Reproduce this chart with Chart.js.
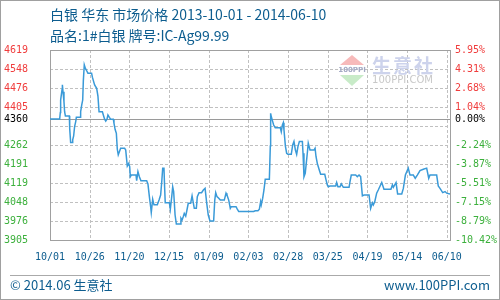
<!DOCTYPE html>
<html><head><meta charset="utf-8">
<script src="https://cdn.jsdelivr.net/npm/chart.js@4.4.1/dist/chart.umd.min.js"></script>
<style>html,body{margin:0;padding:0;background:#fff;}#wrap{width:500px;height:300px;position:relative;}</style>
</head><body><div id="wrap"><canvas id="c" width="500" height="300"></canvas></div>
<script>
// ---- data ----
const titleText = '白银 华东 市场价格 2013-10-01 - 2014-06-10';
const subtitleText = '品名:1#白银 牌号:IC-Ag99.99';
const basePrice = 4360;
// day offsets from 2013-10-01
const days = [0,6.1,6.5,6.7,7.6,7.8,8.2,8.8,9.2,9.7,12.2,12.4,13,13.9,14.3,14.9,15.5,16.2,16.6,19.1,19.3,20,20.6,21,21.6,22.3,23.1,23.9,26.2,26.7,27.5,28.1,29.4,30.2,30.9,33,33.6,34.4,35.1,35.9,36.5,37.4,38.2,39.9,40.3,41,41.8,42.4,43,43.7,44.5,47,47.7,48.3,48.7,49.6,50.2,50.6,51.2,54.2,54.6,55.4,56.3,57.3,60.9,61.7,62.6,63.4,63.8,64.7,65.5,67.6,68.7,69.7,70.4,71,71.8,72.2,72.6,75.2,75.8,76.7,77.3,77.9,78.8,79.6,81.9,82.5,83.2,84,84.6,85.5,86.1,87.1,88.6,89.5,90.9,92.2,92.8,93.9,95.5,96.6,97.7,98.7,99.7,100.8,103.1,103.8,104.4,105.2,106.3,107.3,109.8,110.9,111.5,112.6,113.6,114.2,117.2,118,118.9,128.3,129.3,131,131.9,132.7,133.1,134,134.8,135.6,138.2,138.8,139,139.4,140.3,140.9,141.9,145.1,145.7,146.4,147,147.4,148.3,149.1,149.9,152,152.9,153.7,154.6,155.4,156.2,157.1,159,159.4,160,160.8,162.1,162.7,163.8,166.3,167,167.6,168.4,169.5,170.5,173.1,173.9,174.7,175.3,176.4,180,180.6,181.4,182.7,183.5,184.8,188.4,189,189.8,192.6,193.6,194.7,195.7,196.8,197.8,201,202,203.1,203.7,204.6,205.8,206.8,209,210.4,214.8,215.7,216.3,218,219,221.6,222.6,223.9,225.7,226.8,228.9,230.1,231.4,233.1,235.2,237.3,238.6,239.4,243.6,244.6,245.7,247.4,248.9,249.9,252];
const prices = [4360,4360,4384,4431,4471,4488,4462,4425,4387,4371,4371,4325,4271,4271,4281,4296,4331,4350,4366,4366,4387,4413,4431,4503,4563,4550,4541,4532,4532,4517,4500,4488,4475,4446,4387,4387,4375,4359,4352,4359,4375,4366,4359,4359,4344,4321,4306,4246,4225,4237,4250,4250,4243,4206,4183,4193,4181,4143,4149,4149,4128,4162,4143,4128,4128,4116,4068,4030,4008,4058,4037,4037,4055,4074,4124,4175,4175,4105,4045,4045,4021,4068,4105,4087,3999,3965,3965,3987,3980,3993,4005,3995,4012,4043,4043,4071,4024,4024,4068,4083,4083,4093,4099,4045,3999,3976,3976,4055,4083,4068,4062,4055,4055,4081,4074,4055,4024,4030,4030,4021,4012,4012,4015,4015,4021,4049,4037,4062,4093,4133,4133,4258,4381,4369,4350,4337,4327,4327,4312,4337,4346,4319,4258,4231,4227,4227,4262,4275,4243,4227,4256,4275,4275,4231,4143,4156,4231,4269,4243,4243,4250,4218,4193,4171,4152,4152,4131,4112,4105,4108,4108,4121,4105,4105,4116,4103,4103,4124,4149,4149,4143,4149,4143,4071,4074,4074,4024,4045,4037,4049,4081,4093,4121,4096,4096,4112,4103,4121,4078,4078,4099,4149,4175,4149,4149,4137,4149,4166,4171,4175,4137,4149,4149,4108,4099,4083,4087,4081,4078];
const yTickValues = [3905,3976.4,4047.8,4119.2,4190.6,4262,4333.4,4360,4404.8,4476.2,4547.6,4619];
const leftLabels = ['3905','3976','4048','4119','4191','4262','','4360','4405','4476','4548','4619'];
const rightLabels = ['-10.42%','-8.79%','-7.15%','-5.51%','-3.87%','-2.24%','','0.00%','1.04%','2.68%','4.31%','5.95%'];
const xTickDays = [0,25,50,75,100,125,150,175,200,225,250];
const xLabels = ['10/01','10/26','11/20','12/15','01/09','02/03','02/28','03/25','04/19','05/14','06/10'];
const footerLeft = '© 2014.06 生意社';
const footerRight = 'www.100PPI.com';
const wmMain = '生意社';
const wmSub = '100PPI.COM';

// ---- styles ----
const RED = '#f03c3c', GREEN = '#3cb03c', BLACK = '#000', BLUE = '#0d5d8f';
const GRID = '#c0c0c0';
const tickFont = {family: '"DejaVu Sans Mono", monospace', size: 10};
const labelColor = c => {
  const v = c.tick.value;
  return Math.abs(v - basePrice) < 0.01 ? BLACK : (v > basePrice ? RED : GREEN);
};

const decor = {
  id: 'decor',
  beforeDatasetsDraw(chart) {
    const {ctx, chartArea: a} = chart;
    const y = chart.scales.y, x = chart.scales.x;
    ctx.save();
    const L = Math.round(a.left), R = Math.round(a.right), T = Math.round(a.top), B = Math.round(a.bottom);
    // dashed grid (3px dash, 2px gap) at the scales' tick positions
    ctx.fillStyle = GRID;
    y.ticks.forEach(t => {
      if (Math.abs(t.value - basePrice) < 0.01) return;
      const py = Math.round(y.getPixelForValue(t.value));
      for (let px = L; px < R; px += 5) ctx.fillRect(px, py, Math.min(3, R - px), 1);
    });
    x.ticks.forEach(t => {
      const px = Math.round(x.getPixelForValue(t.value));
      for (let py = T; py < B; py += 5) ctx.fillRect(px, py, 1, Math.min(3, B - py));
    });
    // watermark
    ctx.fillStyle = '#f7baba';
    ctx.beginPath(); ctx.moveTo(352, 55); ctx.lineTo(364, 65); ctx.lineTo(340, 65); ctx.closePath(); ctx.fill();
    ctx.fillStyle = '#c8ebc8';
    ctx.beginPath(); ctx.moveTo(340, 75); ctx.lineTo(364, 75); ctx.lineTo(352, 86); ctx.closePath(); ctx.fill();
    ctx.fillStyle = '#a4aac4';
    ctx.font = 'bold 7px "DejaVu Sans", sans-serif';
    ctx.textAlign = 'center'; ctx.textBaseline = 'middle';
    ctx.fillText('100PPI', 352, 70.5);
    ctx.fillStyle = '#cdd3ec';
    ctx.font = 'bold 19px "Noto Sans CJK SC", sans-serif';
    ctx.textAlign = 'left';
    ctx.letterSpacing = '2px';
    ctx.fillText(wmMain, 372, 66);
    ctx.letterSpacing = '0px';
    ctx.fillStyle = '#c8c8c8';
    ctx.font = '11px "DejaVu Sans", sans-serif';
    ctx.fillText(wmSub, 372, 80.5, 61);
    // base line
    ctx.fillStyle = '#9a9a9a';
    ctx.fillRect(L, Math.round(y.getPixelForValue(basePrice)), R - L, 1);
    // frame
    ctx.fillStyle = '#a0a0a0';
    ctx.fillRect(L, T, R - L + 1, 1);
    ctx.fillRect(L, B, R - L + 1, 1);
    ctx.fillRect(L, T, 1, B - T + 1);
    ctx.fillRect(R, T, 1, B - T + 1);
    ctx.restore();
  },
  afterDraw(chart) {
    const {ctx} = chart;
    ctx.save();
    ctx.fillStyle = BLUE;
    ctx.textBaseline = 'middle'; ctx.textAlign = 'left';
    ctx.font = '14px "Noto Sans CJK SC", sans-serif';
    ctx.fillText(titleText, 50, 15);
    ctx.fillText(subtitleText, 50, 36);
    ctx.font = '13px "Noto Sans CJK SC", sans-serif';
    ctx.fillText(footerLeft, 10, 285);
    ctx.textAlign = 'right';
    ctx.fillText(footerRight, 490, 285);
    ctx.fillStyle = '#aaaaaa';
    ctx.fillRect(10, 275, 480, 1);
    ctx.fillStyle = '#a0a0a0';
    ctx.fillRect(0, 0, 500, 1); ctx.fillRect(0, 299, 500, 1);
    ctx.fillRect(0, 0, 1, 300); ctx.fillRect(499, 0, 1, 300);
    ctx.restore();
  }
};

new Chart(document.getElementById('c'), {
  type: 'line',
  data: {
    datasets: [{
      data: days.map((d, i) => ({x: d, y: prices[i]})),
      borderColor: '#3a9ad8',
      borderWidth: 1.5,
      pointRadius: 0,
      tension: 0,
      fill: false
    }]
  },
  options: {
    responsive: false,
    animation: false,
    events: [],
    layout: {padding: {top: 50, left: 0, right: 0, bottom: 0}},
    plugins: {legend: {display: false}, tooltip: {enabled: false}, title: {display: false}},
    scales: {
      x: {
        type: 'linear', min: 0, max: 252,
        afterBuildTicks: s => { s.ticks = xTickDays.map(v => ({value: v})); },
        afterFit: s => { s.height = 60; },
        ticks: {callback: (v, i) => xLabels[i], autoSkip: false, maxRotation: 0, color: BLUE, font: tickFont, padding: 11},
        grid: {display: false, drawTicks: false},
        border: {display: false}
      },
      y: {
        position: 'left', min: 3905, max: 4619,
        afterBuildTicks: s => { s.ticks = yTickValues.map(v => ({value: v})); },
        afterFit: s => { s.width = 50; },
        ticks: {callback: (v, i) => leftLabels[i], autoSkip: false, color: labelColor, font: tickFont, padding: 22},
        grid: {display: false, drawTicks: false},
        border: {display: false}
      },
      y2: {
        position: 'right', min: 3905, max: 4619,
        afterBuildTicks: s => { s.ticks = yTickValues.map(v => ({value: v})); },
        afterFit: s => { s.width = 50; },
        ticks: {callback: (v, i) => rightLabels[i], autoSkip: false, color: labelColor, font: tickFont, padding: 5},
        grid: {display: false, drawTicks: false},
        border: {display: false}
      }
    }
  },
  plugins: [decor]
});
</script></body></html>
